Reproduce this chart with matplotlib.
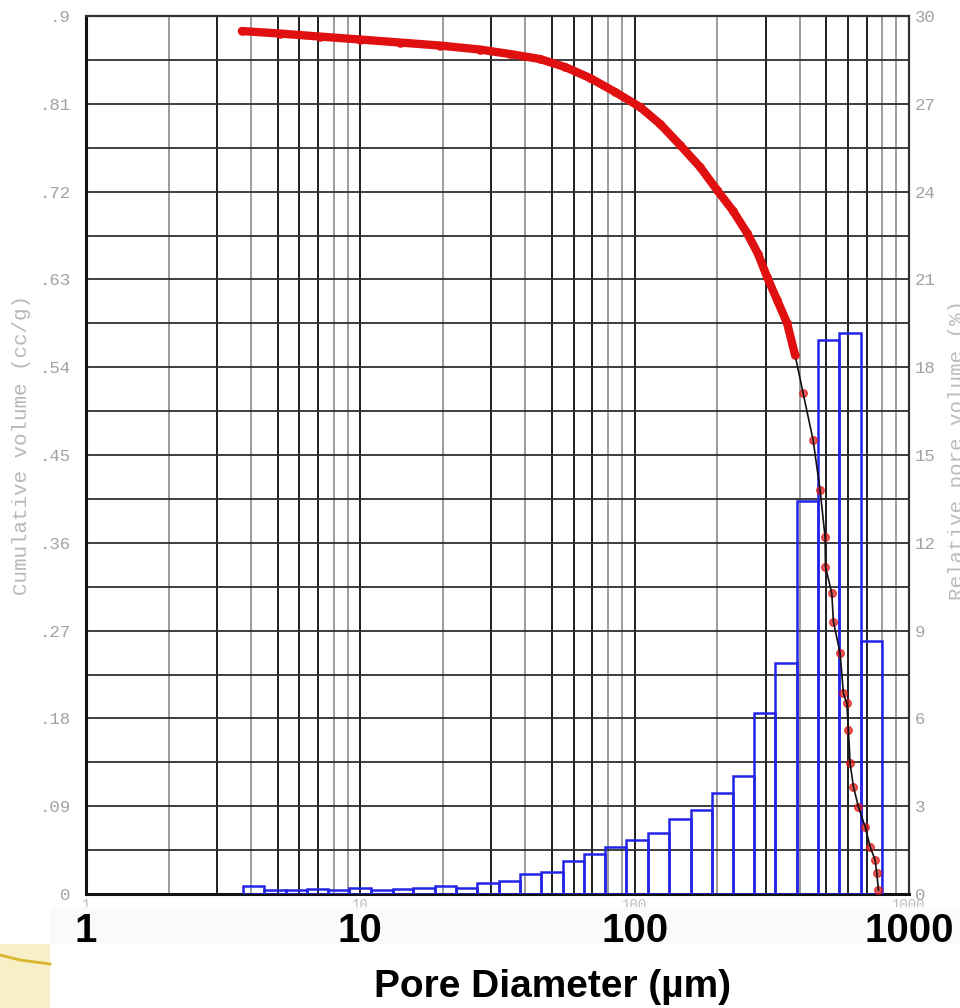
import matplotlib
matplotlib.use("Agg")
import matplotlib.pyplot as plt
import numpy as np
from matplotlib.ticker import LogLocator, FixedLocator, FuncFormatter, NullFormatter
from matplotlib.patches import Rectangle
from matplotlib.lines import Line2D
from matplotlib.transforms import blended_transform_factory

# ---------------- data ----------------
# cumulative intrusion curve: pore diameter (um) vs cumulative volume (cc/g)
diam = [3.70, 5.10, 7.13, 9.97, 13.95, 19.53, 27.32, 35.13, 45.20, 55.76,
        68.79, 84.84, 104.6, 123.8, 146.4, 173.1, 199.7, 228.5, 256.9, 281.8,
        303.9, 330.5, 359.3, 384.3, 411.1, 447.1, 474.1, 494.4, 496.0, 523.1,
        530.2, 560.9, 576.6, 593.3, 601.4, 610.0, 627.1, 654.0, 691.8, 721.5,
        752.3, 763.1, 773.4]
cumvol = [0.8846, 0.8820, 0.8789, 0.8759, 0.8728, 0.8697, 0.8656, 0.8610,
          0.8559, 0.8477, 0.8364, 0.8221, 0.8067, 0.7893, 0.7677, 0.7452,
          0.7216, 0.7001, 0.6775, 0.6560, 0.6324, 0.6089, 0.5853, 0.5525,
          0.5135, 0.4654, 0.4141, 0.3659, 0.3355, 0.3082, 0.2791, 0.2467,
          0.2057, 0.1955, 0.1681, 0.1340, 0.1100, 0.0895, 0.0690, 0.0485,
          0.0349, 0.0212, 0.0041]

# relative pore volume histogram (%): bin edges (um) and heights
bin_edges = [3.74, 4.47, 5.34, 6.39, 7.64, 9.13, 10.9, 13.1, 15.6, 18.7, 22.3,
             26.7, 31.9, 38.2, 45.7, 54.6, 65.3, 78.1, 93.3, 112, 133, 160, 191,
             228, 273, 326, 390, 467, 558, 667, 798]
rel_pct = [0.28, 0.12, 0.15, 0.16, 0.12, 0.20, 0.12, 0.16, 0.20, 0.27, 0.22,
           0.39, 0.46, 0.68, 0.75, 1.14, 1.37, 1.62, 1.85, 2.08, 2.57, 2.87,
           3.44, 4.04, 6.20, 7.88, 13.43, 18.93, 19.16, 8.65]

left_ticks = [0, 0.09, 0.18, 0.27, 0.36, 0.45, 0.54, 0.63, 0.72, 0.81, 0.9]
left_labels = ["0", ".09", ".18", ".27", ".36", ".45", ".54", ".63", ".72", ".81", ".9"]
right_ticks = [0, 3, 6, 9, 12, 15, 18, 21, 24, 27, 30]
right_labels = [str(t) for t in right_ticks]
x_big_ticks = [1, 10, 100, 1000]
x_big_labels = ["1", "10", "100", "1000"]

# ---------------- figure ----------------
W, H = 960, 1008
fig = plt.figure(figsize=(W / 100, H / 100), dpi=100)
fig.patch.set_facecolor("white")

L, R, T, B = 86, 909, 16, 894
ax = fig.add_axes([L / W, 1 - B / H, (R - L) / W, (B - T) / H])
ax.set_xscale("log")
ax.set_xlim(1, 1000)
ax.set_ylim(0, 0.9)

mono = "Liberation Mono"
gray_txt = "#a2a2a2"

# vertical grid: darker at 1,3,5,6,7 and lighter at 2,4,8,9 of each decade
ax.xaxis.set_major_locator(LogLocator(base=10, subs=(1.0, 3.0, 5.0, 6.0, 7.0), numticks=30))
ax.xaxis.set_minor_locator(LogLocator(base=10, subs=(2.0, 4.0, 8.0, 9.0), numticks=30))


def dec_fmt(v, p):
    lv = np.log10(v)
    return f"{v:g}" if abs(lv - round(lv)) < 1e-6 else ""


ax.xaxis.set_major_formatter(FuncFormatter(dec_fmt))
ax.xaxis.set_minor_formatter(NullFormatter())
ax.grid(which="major", axis="x", color="#1e1e1e", lw=1.4)
ax.grid(which="minor", axis="x", color="#8c8c8c", lw=1.2)

ax.yaxis.set_major_locator(FixedLocator(left_ticks))
ax.yaxis.set_minor_locator(FixedLocator([t + 0.045 for t in left_ticks[:-1]]))
ax.set_yticklabels(left_labels)
ax.grid(which="both", axis="y", color="#2e2e2e", lw=1.3)

ax.tick_params(axis="both", which="both", length=0)
ax.tick_params(axis="y", pad=11, labelsize=12.5, labelcolor=gray_txt)
ax.tick_params(axis="x", pad=3, labelsize=10, labelcolor="#bcbcbc")
for lab in ax.get_yticklabels() + ax.get_xticklabels():
    lab.set_fontfamily(mono)

for s in ["left", "bottom"]:
    ax.spines[s].set_linewidth(2.2)
    ax.spines[s].set_color("#111111")
for s in ["top", "right"]:
    ax.spines[s].set_linewidth(1.6)
    ax.spines[s].set_color("#333333")

# secondary axis for relative pore volume
ax2 = ax.twinx()
ax2.set_ylim(0, 30)
ax2.set_yticks(right_ticks)
ax2.set_yticklabels(right_labels)
ax2.tick_params(axis="y", length=0, pad=4, labelsize=12.5, labelcolor=gray_txt)
for lab in ax2.get_yticklabels():
    lab.set_fontfamily(mono)
for s in ax2.spines.values():
    s.set_visible(False)

lefts = bin_edges[:-1]
widths = [b - a for a, b in zip(bin_edges[:-1], bin_edges[1:])]
ax2.bar(lefts, rel_pct, width=widths, align="edge", fill=False,
        edgecolor="#2424e6", linewidth=1.8, zorder=3)

# cumulative curve (drawn in cc/g coordinates on top of the bars)
d = np.array(diam)
c = np.array(cumvol)
ax2.plot(d, c, transform=ax.transData, color="#e01515", ls="none", marker="o",
         markersize=5.5, mec="#e01515", alpha=0.7, zorder=5)
ax2.plot(d, c, transform=ax.transData, color="#111111", lw=1.2, zorder=6)
upper = c >= 0.55
ax2.plot(d[upper], c[upper], transform=ax.transData, color="#e01010", lw=6,
         solid_capstyle="round", solid_joinstyle="round", zorder=7)

# axis titles of the original (light gray, monospace)
fig.text(22 / W, 1 - 445 / H, "Cumulative volume (cc/g)", rotation=90,
         ha="center", va="center", color="#b8b8b8", fontsize=15, family=mono)
fig.text(948 / W, 1 - 450 / H, "Relative pore volume (%)", rotation=90,
         ha="left", va="center", color="#bcbcbc", fontsize=15, family=mono)

# white box behind the large tick labels
fig.patches.append(Rectangle((50 / W, 1 - 944 / H), (W - 50) / W, 37 / H,
                             transform=fig.transFigure, facecolor="#fafafa",
                             edgecolor="none", zorder=1))

# big bold x tick labels
bt = blended_transform_factory(ax.transData, fig.transFigure)
for v, s in zip(x_big_ticks, x_big_labels):
    fig.text(v, 1 - 942 / H, s, transform=bt, ha="center", va="baseline",
             fontsize=29, fontweight="bold", family="Liberation Sans",
             color="black", zorder=4)

fig.text(552 / W, 1 - 997 / H, "Pore Diameter (\u00b5m)", ha="center",
         va="baseline", fontsize=28, fontweight="bold", family="Liberation Sans",
         color="black", zorder=4)

# slide decoration in the lower-left corner
fig.patches.append(Rectangle((0, 0), 50 / W, 64 / H, transform=fig.transFigure,
                             facecolor="#f7f0c6", edgecolor="none", zorder=1))
fig.lines.append(Line2D([0, 20 / W, 50 / W], [1 - 955 / H, 1 - 960 / H, 1 - 964 / H],
                        transform=fig.transFigure, color="#d9b52e", lw=2, zorder=2))

fig.savefig("out.png", dpi=100)
